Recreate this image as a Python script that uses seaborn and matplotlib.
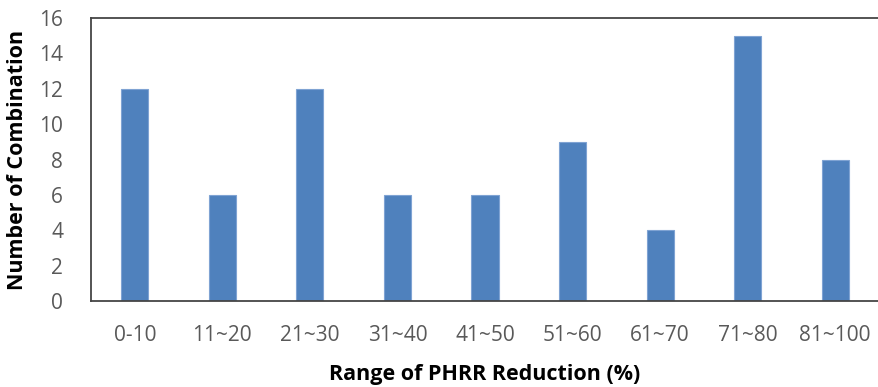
import matplotlib
matplotlib.use("Agg")
import matplotlib.pyplot as plt
import seaborn as sns
import pandas as pd

# Number of combinations falling into each PHRR-reduction range
ranges = ["0-10", "11~20", "21~30", "31~40", "41~50", "51~60", "61~70", "71~80", "81~100"]
counts = [12, 6, 12, 6, 6, 9, 4, 15, 8]
y_ticks = [0, 2, 4, 6, 8, 10, 12, 14, 16]

df = pd.DataFrame({"range": ranges, "count": counts})

sns.set_theme(style="white")
plt.rcParams["font.family"] = ["Open Sans", "DejaVu Sans"]

fig = plt.figure(figsize=(8.79, 3.87), dpi=100)
ax = fig.add_axes([91 / 879, 1 - 301 / 387, 1 - 91 / 879, (301 - 18) / 387])

sns.barplot(data=df, x="range", y="count", order=ranges, color="#4F81BD",
            saturation=1, width=0.31, edgecolor="#7FA3D3", linewidth=0.8, ax=ax)

ax.set_ylim(0, 16)
ax.set_yticks(y_ticks)
ax.set_xlim(-0.5, len(ranges) - 0.5)

ax.tick_params(axis="both", length=0, colors="#595959", labelsize=15)
ax.tick_params(axis="x", pad=17)
ax.tick_params(axis="y", pad=20)

for side in ["left", "top", "bottom"]:
    ax.spines[side].set_visible(True)
    ax.spines[side].set_color("#454545")
    ax.spines[side].set_linewidth(1.3)
ax.spines["right"].set_visible(False)

ax.set_xlabel("Range of PHRR Reduction (%)", fontsize=15.5, fontweight="bold",
              color="black", labelpad=13)
ax.set_ylabel("Number of Combination", fontsize=15.5, fontweight="bold",
              color="black", labelpad=8)

fig.savefig("out.png", dpi=100)
